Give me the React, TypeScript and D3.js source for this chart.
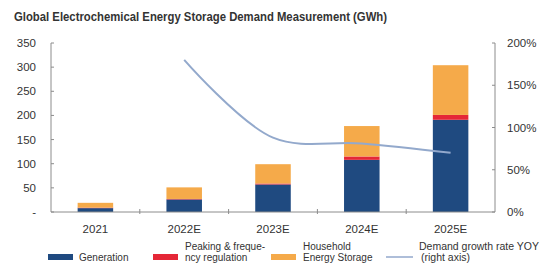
import React from 'react'
import * as d3 from 'd3'

const years = ['2021', '2022E', '2023E', '2024E', '2025E']
const generation = [8, 26, 57, 108, 191]
const peaking = [1, 1, 2, 7, 10]
const household = [10, 24, 40, 63, 103]
const growthYoy = [null, 180, 88, 81, 70]
const leftTicks = [0, 50, 100, 150, 200, 250, 300, 350]
const rightTicks = [0, 50, 100, 150, 200]

const W = 554
const H = 263
const margin = { top: 43, right: 59, bottom: 51, left: 51 }

const colors = {
  generation: '#1f4a80',
  peaking: '#e52737',
  household: '#f5aa4a',
  line: '#93a9cc',
  axis: '#8c8c8c',
  text: '#333',
}

const font = '"Liberation Sans", Arial, sans-serif'

function App() {
  const x = d3
    .scaleBand()
    .domain(years)
    .range([margin.left, W - margin.right])
    .paddingInner(0.6)
    .paddingOuter(0.3)
  const y = d3
    .scaleLinear()
    .domain([0, 350])
    .range([H - margin.bottom, margin.top])
  const y2 = d3
    .scaleLinear()
    .domain([0, 200])
    .range([H - margin.bottom, margin.top])

  const rows = years.map((yr, i) => ({
    year: yr,
    generation: generation[i],
    peaking: peaking[i],
    household: household[i],
  }))
  const stack = d3.stack().keys(['generation', 'peaking', 'household'])(rows as any)

  const cx = (yr: string) => (x(yr) as number) + x.bandwidth() / 2
  const linePts = years
    .map((yr, i) => [cx(yr), growthYoy[i]] as [number, number | null])
    .filter((d) => d[1] != null)
    .map((d) => [d[0], y2(d[1] as number)] as [number, number])
  const linePath = d3.line().curve(d3.curveCatmullRom.alpha(0.5))(linePts)

  const base = y(0)
  const step = x.step()
  const left = margin.left
  const right = W - margin.right

  return (
    <svg width={W} height={H} style={{ position: 'absolute', left: 0, top: 0, background: '#fff' }}>
      <text
        x={14}
        y={21}
        fontFamily={font}
        fontWeight="bold"
        fontSize={12}
        fill={colors.text}
        textLength={373}
        lengthAdjust="spacingAndGlyphs"
      >
        Global Electrochemical Energy Storage Demand Measurement (GWh)
      </text>

      {/* stacked bars */}
      {stack.map((layer) => (
        <g key={layer.key} fill={(colors as any)[layer.key]}>
          {layer.map((d, i) => (
            <rect
              key={years[i]}
              x={x(years[i])}
              y={y(d[1])}
              width={x.bandwidth()}
              height={y(d[0]) - y(d[1])}
            />
          ))}
        </g>
      ))}

      {/* axes */}
      <g stroke={colors.axis} strokeWidth={1} fill="none">
        <line x1={left} x2={left} y1={y(350)} y2={base} />
        <line x1={right} x2={right} y1={y2(200)} y2={base} />
        <line x1={left} x2={right} y1={base} y2={base} />
        {leftTicks.map((t) => (
          <line key={t} x1={left} x2={left + 3} y1={y(t)} y2={y(t)} />
        ))}
        {rightTicks.map((t) => (
          <line key={t} x1={right - 3} x2={right} y1={y2(t)} y2={y2(t)} />
        ))}
        {years.slice(1).map((yr) => (
          <line
            key={yr}
            x1={(x(yr) as number) - (step - x.bandwidth()) / 2}
            x2={(x(yr) as number) - (step - x.bandwidth()) / 2}
            y1={base - 3}
            y2={base + 2}
          />
        ))}
      </g>

      <g fontFamily={font} fontSize={11.5} fill={colors.text}>
        {leftTicks.map((t) => (
          <text key={t} x={36} y={y(t) + 4} textAnchor="end">
            {t === 0 ? '-' : t}
          </text>
        ))}
        {rightTicks.map((t) => (
          <text key={t} x={507} y={y2(t) + 4}>
            {t}%
          </text>
        ))}
        {years.map((yr) => (
          <text key={yr} x={cx(yr)} y={233} textAnchor="middle">
            {yr}
          </text>
        ))}
      </g>

      {/* growth rate line */}
      <path d={linePath || ''} fill="none" stroke={colors.line} strokeWidth={2} />

      {/* legend */}
      <g fontFamily={font} fontSize={10} fill={colors.text}>
        <rect x={48} y={254} width={25} height={6} fill={colors.generation} />
        <text x={79} y={260.5}>Generation</text>

        <rect x={153} y={254} width={25} height={6} fill={colors.peaking} />
        <text x={185} y={249.5}>Peaking &amp; freque-</text>
        <text x={185} y={260.5}>ncy regulation</text>

        <rect x={271} y={254} width={25} height={6} fill={colors.household} />
        <text x={303} y={249.5}>Household</text>
        <text x={303} y={260.5}>Energy Storage</text>

        <line x1={386} x2={413} y1={257} y2={257} stroke={colors.line} strokeWidth={1.5} />
        <text x={419} y={249.5} fontSize={10.5}>Demand growth rate YOY</text>
        <text x={421} y={260.5} fontSize={10.5}>(right axis)</text>
      </g>
    </svg>
  )
}

export default App
